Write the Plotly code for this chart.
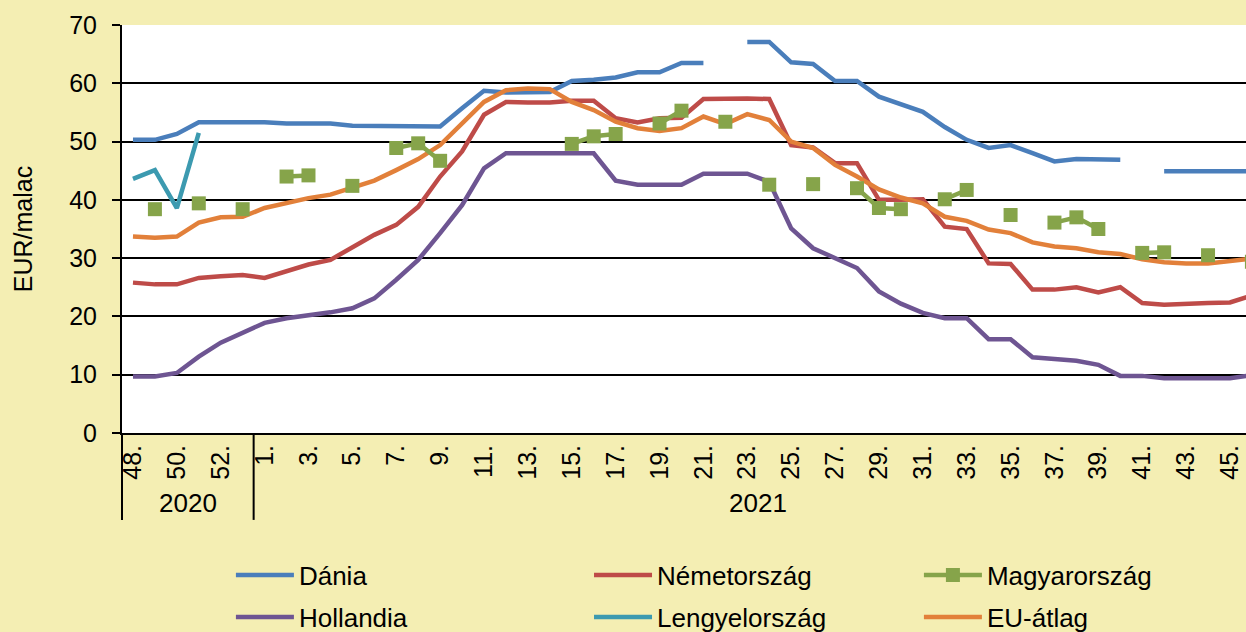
import plotly.graph_objects as go

# Categories: weeks 48-53 of 2020 and weeks 1-46 of 2021
weeks_2020 = [48, 49, 50, 51, 52, 53]
weeks_2021 = list(range(1, 47))
categories = [f"2020/{w}" for w in weeks_2020] + [f"2021/{w}" for w in weeks_2021]
week_labels = [f"{w}." for w in weeks_2020] + [f"{w}." for w in weeks_2021]

dania = [50.3, 50.3, 51.3, 53.3, 53.3, 53.3,
         53.3, 53.1, 53.1, 53.1, 52.7, 52.7, 52.6, 52.6, 52.6,
         55.7, 58.7, 58.4, 58.5, 58.5, 60.4, 60.6, 61.0, 61.9, 61.9, 63.5, 63.5,
         None,
         67.1, 67.1, 63.6, 63.3, 60.4, 60.4, 57.7, 56.5, 55.1, 52.5, 50.3, 48.9,
         49.4, 48.0, 46.6, 47.0, 47.0, 46.9,
         None,
         44.9, 44.9, 44.9, 44.9, 44.9]

nemetorszag = [25.8, 25.5, 25.5, 26.6, 26.9, 27.1,
               26.6, 27.7, 28.9, 29.7, 31.8, 34.0, 35.7, 38.8, 44.0,
               48.3, 54.6, 56.8, 56.7, 56.7, 57.0, 57.0, 54.0, 53.3, 54.0, 54.1, 57.3,
               57.4, 57.4, 57.3, 49.4, 49.0, 46.3, 46.3, 40.0, 40.0,
               40.1, 35.4, 35.0, 29.1, 29.0, 24.6, 24.6, 25.0, 24.1, 25.0,
               22.3, 22.0, 22.2, 22.3, 22.4, 23.6]

magyarorszag = [None, 38.4, None, 39.4, None, 38.4,
                None, 44.0, 44.2, None, 42.4, None, 48.9, 49.7, 46.7,
                None, None, None, None, None, 49.6, 50.9, 51.3, None, 53.1, 55.3, None,
                53.4, None, 42.6, None, 42.7, None, 42.0, 38.6, 38.4,
                None, 40.1, 41.7, None, 37.4, None, 36.1, 37.0, 35.0, None,
                30.9, 31.0, None, 30.5, None, 29.4]

hollandia = [9.7, 9.7, 10.3, 13.1, 15.5, 17.1,
             18.9, 19.7, 20.2, 20.7, 21.4, 23.1, 26.3, 29.7, 34.3,
             39.1, 45.4, 48.0, 48.0, 48.0, 48.0, 48.0, 43.3, 42.6, 42.6, 42.6, 44.5,
             44.5, 44.5, 43.1, 35.1, 31.7, 30.0, 28.3, 24.3, 22.2,
             20.6, 19.7, 19.7, 16.1, 16.1, 13.0, 12.7, 12.4, 11.7, 9.8,
             9.8, 9.4, 9.4, 9.4, 9.4, 9.9]

lengyelorszag = [43.6, 45.1, 38.6, 51.5] + [None] * 48

eu_atlag = [33.7, 33.5, 33.7, 36.1, 37.0, 37.1,
            38.6, 39.4, 40.3, 40.9, 42.0, 43.3, 45.1, 47.0, 49.4,
            53.1, 56.8, 58.8, 59.1, 59.0, 56.8, 55.4, 53.4, 52.3, 51.8, 52.3, 54.3,
            53.0, 54.7, 53.7, 50.0, 48.9, 46.0, 44.0, 41.8, 40.4,
            39.4, 37.1, 36.4, 34.9, 34.3, 32.7, 32.0, 31.7, 31.0, 30.7,
            29.8, 29.3, 29.1, 29.1, 29.6, 29.9]

years = ["2020", "2021"]

FONT = "Arial, Liberation Sans, sans-serif"
BG = "#F4EEB3"
LW = 4.5

fig = go.Figure()

def line(name, y, color, legend):
    fig.add_trace(go.Scatter(
        x=categories, y=y, name=name, mode="lines",
        line=dict(color=color, width=LW), legend=legend, connectgaps=False))

line("Dánia", dania, "#4A7EBB", "legend")
line("Németország", nemetorszag, "#BE4B48", "legend2")
line("Hollandia", hollandia, "#6E5592", "legend4")
line("Lengyelország", lengyelorszag, "#3C9AB0", "legend5")
line("EU-átlag", eu_atlag, "#E2803A", "legend6")
fig.add_trace(go.Scatter(
    x=categories, y=magyarorszag, name="Magyarország", mode="lines+markers",
    line=dict(color="#86A44A", width=LW),
    marker=dict(symbol="square", size=14, color="#86A44A"),
    legend="legend3", connectgaps=False))

tick_idx = list(range(0, len(categories), 2))

def leg(x, y):
    return dict(x=x, y=y, xanchor="left", yanchor="middle", orientation="v",
                itemwidth=58, bgcolor="rgba(0,0,0,0)", borderwidth=0,
                font=dict(size=26, family=FONT, color="black"))

col_x = [0.0969, 0.4155, 0.709]
row_y = [-0.348, -0.451]

fig.update_layout(
    width=1246, height=632,
    paper_bgcolor=BG, plot_bgcolor="white",
    margin=dict(l=122, r=0, t=25, b=199, autoexpand=False),
    font=dict(family=FONT, size=25, color="black"),
    xaxis=dict(
        type="category", categoryorder="array", categoryarray=categories,
        range=[-0.5, 50.73], automargin=False,
        tickmode="array",
        tickvals=[categories[i] for i in tick_idx],
        ticktext=[week_labels[i] for i in tick_idx],
        tickangle=-90, ticks="", showgrid=False,
        showline=True, linecolor="black", linewidth=2,
        tickfont=dict(size=25),
    ),
    yaxis=dict(
        range=[0, 70], dtick=10, automargin=False,
        showgrid=True, gridcolor="black", gridwidth=2,
        zeroline=True, zerolinecolor="black", zerolinewidth=2,
        showline=True, linecolor="black", linewidth=2,
        ticks="outside", ticklen=8, tickcolor="black", tickwidth=2,
        ticklabelstandoff=10,
        tickfont=dict(size=25),
        title=dict(text="EUR/malac", font=dict(size=25), standoff=29),
    ),
    legend=leg(col_x[0], row_y[0]),
    legend2=leg(col_x[1], row_y[0]),
    legend3=leg(col_x[2], row_y[0]),
    legend4=leg(col_x[0], row_y[1]),
    legend5=leg(col_x[1], row_y[1]),
    legend6=leg(col_x[2], row_y[1]),
    showlegend=True,
)

# Year group separators and labels
fig.add_shape(type="line", xref="paper", yref="paper", x0=0, x1=0, y0=0, y1=-0.213,
              line=dict(color="black", width=2))
fig.add_shape(type="line", xref="x", yref="paper", x0=5.5, x1=5.5, y0=0, y1=-0.213,
              line=dict(color="black", width=2))
fig.add_annotation(x=2.5, xref="x", y=-0.172, yref="paper", text=years[0],
                   showarrow=False, font=dict(size=26), yanchor="middle")
fig.add_annotation(x=28.5, xref="x", y=-0.172, yref="paper", text=years[1],
                   showarrow=False, font=dict(size=26), yanchor="middle")

fig.write_html(
    "out.html",
    config={"displayModeBar": False},
    post_script="document.body.style.margin='0';document.body.style.overflow='hidden';",
)
